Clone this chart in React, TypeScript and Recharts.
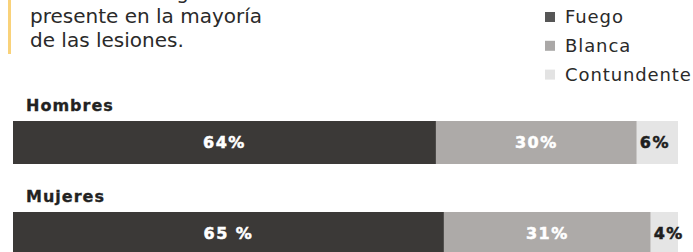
import React from "react";
import { BarChart, Bar, XAxis, YAxis, LabelList } from "recharts";

const categories = ["Hombres", "Mujeres"];
const seriesNames = ["Fuego", "Blanca", "Contundente"];
const fuego = [63.6, 64.8];
const blanca = [30.2, 31.1];
const contundente = [6.2, 4.1];
const fuegoLabels = ["64%", "65 %"];
const blancaLabels = ["30%", "31%"];
const contundenteLabels = ["6%", "4%"];
const introLines = ["El arma de fuego está", "presente en la mayoría", "de las lesiones."];

const barColors = ["#3b3937", "#adaaa8", "#e5e5e5"];
const legendColors = ["#565656", "#aaa8a7", "#e3e3e3"];

const data = categories.map((c, i) => ({
  name: c,
  fuego: fuego[i],
  blanca: blanca[i],
  contundente: contundente[i],
  fuegoLabel: fuegoLabels[i],
  blancaLabel: blancaLabels[i],
  contundenteLabel: contundenteLabels[i],
}));

const FONT = "'DejaVu Sans', sans-serif";

const CategoryTitle = (props: any) => {
  const { x, y, value } = props;
  return (
    <text
      x={Number(x) + 13}
      y={Number(y) - 10}
      fill="#222"
      stroke="#222"
      strokeWidth={0.3}
      fontFamily={FONT}
      fontSize={16}
      fontWeight="bold"
      letterSpacing={1}
    >
      {value}
    </text>
  );
};

const labelProps = (fill: string) => ({
  fill,
  stroke: fill,
  strokeWidth: 0.5,
  fontFamily: FONT,
  fontSize: 16,
  fontWeight: "bold",
  letterSpacing: 1.5,
});

export default function App() {
  return (
    <div
      style={{
        position: "absolute",
        left: 0,
        top: 0,
        width: 693,
        height: 252,
        overflow: "hidden",
        background: "#fff",
      }}
    >
      <svg
        width={693}
        height={110}
        style={{ position: "absolute", left: 0, top: 0 }}
      >
        <rect x={8} y={0} width={3} height={54} fill="#f9d27a" />
        {introLines.map((t, i) => (
          <text
            key={t}
            x={30}
            y={-1 + i * 24}
            fill="#2a2a2a"
            fontFamily={FONT}
            fontSize={20}
          >
            {t}
          </text>
        ))}
        {seriesNames.map((n, i) => (
          <g key={n}>
            <rect x={545} y={12 + i * 28.8} width={10} height={10} fill={legendColors[i]} />
            <text
              x={565}
              y={23.3 + i * 28.7}
              fill="#2a2a2a"
              fontFamily={FONT}
              fontSize={18}
              letterSpacing={0.9}
            >
              {n}
            </text>
          </g>
        ))}
      </svg>
      <div style={{ position: "absolute", left: 0, top: 0 }}>
        <BarChart
          width={693}
          height={279}
          data={data}
          layout="vertical"
          margin={{ top: 97, right: 15, bottom: 0, left: 13 }}
        >
          <XAxis type="number" domain={[0, 100]} hide />
          <YAxis type="category" dataKey="name" hide />
          <Bar dataKey="fuego" stackId="a" fill={barColors[0]} barSize={43} isAnimationActive={false}>
            <LabelList dataKey="name" content={<CategoryTitle />} />
            <LabelList dataKey="fuegoLabel" position="center" {...labelProps("#ffffff")} />
          </Bar>
          <Bar dataKey="blanca" stackId="a" fill={barColors[1]} barSize={43} isAnimationActive={false}>
            <LabelList dataKey="blancaLabel" position="center" {...labelProps("#ffffff")} />
          </Bar>
          <Bar dataKey="contundente" stackId="a" fill={barColors[2]} barSize={43} isAnimationActive={false}>
            <LabelList
              dataKey="contundenteLabel"
              position="insideLeft"
              offset={3}
              {...labelProps("#1e1e1e")}
            />
          </Bar>
        </BarChart>
      </div>
    </div>
  );
}
